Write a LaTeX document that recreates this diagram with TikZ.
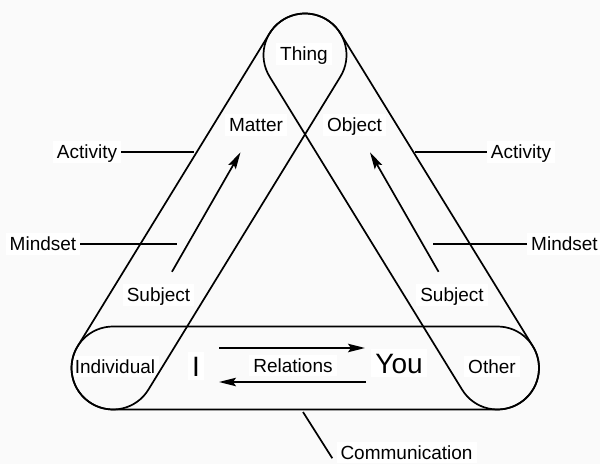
\documentclass[tikz,border=0pt]{standalone}
\usepackage{fontspec}
\setmainfont{Liberation Sans}
\usetikzlibrary{calc,arrows.meta}
\definecolor{bgc}{RGB}{250,250,250}
\newcommand\drawstadium[3]{%
  \draw[ln] let \p1=(#1), \p2=(#2), \n1={atan2(\y2-\y1,\x2-\x1)} in
    ($(#1)+(\n1+90:#3)$) -- ($(#2)+(\n1+90:#3)$)
    arc[start angle=\n1+90, delta angle=-180, radius=#3]
    -- ($(#1)+(\n1-90:#3)$)
    arc[start angle=\n1-90, delta angle=-180, radius=#3] -- cycle;}
\begin{document}
\begin{tikzpicture}[x=1pt,y=1pt,
  lbl/.style={fill=white, inner sep=4pt, text height=13.5pt, text depth=0pt,
    anchor=base, font=\fontsize{19}{22}\selectfont},
  big/.style={lbl, text height=20pt, font=\fontsize{28}{32}\selectfont},
  ln/.style={line width=1.7pt, black},
  arr/.style={ln, -{Stealth[length=17pt,width=8.5pt,inset=3pt]}}]
\useasboundingbox[fill=bgc] (0,0) rectangle (600,464);
% centres of the stadium ends
\coordinate (cI) at (113,96);
\coordinate (cO) at (497.5,96);
\coordinate (cT) at (305,409);
% labels
\node[lbl] (thing) at (304,403) {Thing};
\node[lbl] (matter) at (256,332) {Matter};
\node[lbl] (object) at (354.5,332) {Object};
\node[lbl] (actL) at (87,305) {Activity};
\node[lbl] (actR) at (521,305) {Activity};
\node[lbl] (mindL) at (43,213) {Mindset};
\node[lbl] (mindR) at (564.5,213) {Mindset};
\node[lbl] (subjL) at (158.5,162) {Subject};
\node[lbl] (subjR) at (452,162) {Subject};
\node[lbl] (indiv) at (115,91) {Individual};
\node[lbl] (other) at (492,91) {Other};
\node[lbl] (rel) at (293,92) {Relations};
\node[big] (I) at (196,88) {I};
\node[big] (you) at (399,91) {You};
\node[lbl] (comm) at (406.5,5) {Communication};
% stadiums
\drawstadium{cI}{cT}{41.5}
\drawstadium{cO}{cT}{41.5}
\drawstadium{cI}{cO}{41.5}
% pointer lines
\coordinate (aLend) at (194,312);
\coordinate (aRend) at (415,312);
\coordinate (mLend) at (177,219);
\coordinate (mRend) at (433,219);
\coordinate (commtop) at (303,52);
\draw[ln] (actL.east) -- (actL.east -| aLend);
\draw[ln] (actR.west) -- (actR.west -| aRend);
\draw[ln] (mindL.east) -- (mindL.east -| mLend);
\draw[ln] (mindR.west) -- (mindR.west -| mRend);
\draw[ln] (commtop) -- ([shift={(-4,-6)}]comm.west);
% arrows
\draw[arr, shorten <=14.4pt, shorten >=18.5pt] (subjL) -- (matter);
\draw[arr, shorten <=14.4pt, shorten >=18.5pt] (subjR) -- (object);
\coordinate (r1a) at (219,116);
\coordinate (r1b) at (365,116);
\coordinate (r2a) at (366,82);
\coordinate (r2b) at (219,82);
\draw[arr] (r1a) -- (r1b);
\draw[arr] (r2a) -- (r2b);
\end{tikzpicture}
\end{document}
